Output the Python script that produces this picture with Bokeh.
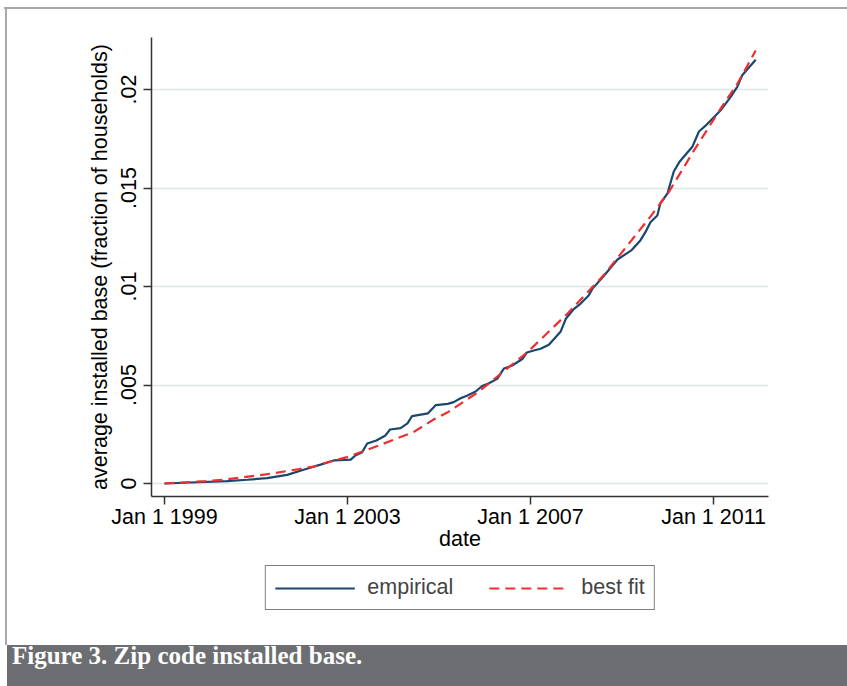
from bokeh.plotting import figure
from bokeh.layouts import column
from bokeh.models import FixedTicker, Range1d, Legend, LegendItem, Div
from bokeh.embed import file_html
from bokeh.resources import INLINE

# ---- data ----
emp_dates = [1999.00, 1999.57, 2000.37, 2000.81, 2001.24, 2001.68, 2002.04, 2002.41, 2002.70,
             2003.07, 2003.17, 2003.32, 2003.43, 2003.63, 2003.83, 2003.93, 2004.16, 2004.31,
             2004.41, 2004.76, 2004.93, 2005.19, 2005.32, 2005.47, 2005.62, 2005.80, 2005.94,
             2006.09, 2006.27, 2006.42, 2006.60, 2006.82, 2006.92, 2007.07, 2007.22, 2007.40,
             2007.66, 2007.77, 2007.95, 2008.09, 2008.27, 2008.35, 2008.60, 2008.90, 2009.21,
             2009.40, 2009.51, 2009.62, 2009.77, 2009.84, 2009.99, 2010.13, 2010.26, 2010.54,
             2010.68, 2010.85, 2011.15, 2011.37, 2011.52, 2011.63, 2011.92]
emp_values = [0.00000, 0.00005, 0.00012, 0.00019, 0.00027, 0.00044, 0.00070, 0.00096, 0.00117,
              0.00121, 0.00142, 0.00159, 0.00203, 0.00218, 0.00244, 0.00274, 0.00281, 0.00305,
              0.00342, 0.00356, 0.00398, 0.00404, 0.00413, 0.00433, 0.00447, 0.00467, 0.00495,
              0.00509, 0.00531, 0.00584, 0.00599, 0.00632, 0.00665, 0.00675, 0.00684, 0.00704,
              0.00772, 0.00836, 0.00887, 0.00912, 0.00954, 0.00988, 0.01053, 0.01137, 0.01185,
              0.01234, 0.01276, 0.01326, 0.01360, 0.01424, 0.01471, 0.01584, 0.01635, 0.01711,
              0.01787, 0.01822, 0.01893, 0.01961, 0.02015, 0.02074, 0.02151]

fit_dates = [1999.00, 1999.90, 2000.30, 2000.62, 2001.21, 2001.94, 2002.26, 2002.67, 2002.99,
             2003.25, 2003.72, 2004.45, 2004.89, 2005.18, 2005.83, 2006.93, 2007.80, 2008.60,
             2009.62, 2010.02, 2010.57, 2011.15, 2011.52, 2011.92]
fit_values = [0.00000, 0.00012, 0.00019, 0.00029, 0.00046, 0.00073, 0.00086, 0.00115, 0.00134,
              0.00156, 0.00196, 0.00262, 0.00326, 0.00360, 0.00460, 0.00666, 0.00861, 0.01058,
              0.01355, 0.01479, 0.01690, 0.01902, 0.02029, 0.02198]

x_tick_values = [1999, 2003, 2007, 2011]
x_tick_labels = ["Jan 1 1999", "Jan 1 2003", "Jan 1 2007", "Jan 1 2011"]
y_tick_values = [0, 0.005, 0.01, 0.015, 0.02]
y_tick_labels = ["0", ".005", ".01", ".015", ".02"]

series_labels = ["empirical", "best fit"]
x_title = "date"
y_title = "average installed base (fraction of households)"
caption = "Figure 3. Zip code installed base."

FONT = "Liberation Sans"
FS = "21.5px"
AXIS_COLOR = "#333333"
FRAME_GRAY = "#a9a9a9"
EMP_COLOR = "#1a476f"
FIT_COLOR = "#ee2f2f"
FIT_DASH = "10 6"

# ---------------- main chart ----------------
p = figure(frame_width=617, frame_height=459,
           min_border_left=151, min_border_right=79, min_border_top=37, min_border_bottom=60,
           x_range=Range1d(1998.716, 2012.20), y_range=Range1d(-0.00066, 0.02264),
           output_backend="svg", toolbar_location=None)
p.outline_line_color = None
p.background_fill_color = "white"
p.border_fill_color = None

for ax in (p.xaxis[0], p.yaxis[0]):
    ax.axis_line_color = AXIS_COLOR
    ax.axis_line_width = 1.5
    ax.major_tick_line_color = AXIS_COLOR
    ax.major_tick_line_width = 1.5
    ax.major_tick_in = 0
    ax.major_tick_out = 8
    ax.minor_tick_line_color = None
    ax.major_label_text_font = FONT
    ax.major_label_text_font_size = FS
    ax.major_label_text_color = "black"
    ax.axis_label_text_font = FONT
    ax.axis_label_text_font_size = FS
    ax.axis_label_text_font_style = "normal"
    ax.axis_label_text_color = "black"

p.xaxis.ticker = FixedTicker(ticks=x_tick_values)
p.xaxis.major_label_overrides = dict(zip(x_tick_values, x_tick_labels))
p.xaxis.axis_label = x_title
p.xaxis.major_label_standoff = 0
p.xaxis.axis_label_standoff = -5

p.yaxis.ticker = FixedTicker(ticks=y_tick_values)
p.yaxis.major_label_overrides = dict(zip(y_tick_values, y_tick_labels))
p.yaxis.axis_label = y_title
p.yaxis.major_label_orientation = "vertical"
p.yaxis.major_label_standoff = 7
p.yaxis.axis_label_standoff = 7

p.xgrid.visible = False
p.ygrid.grid_line_color = "#dde7e7"
p.ygrid.grid_line_width = 1.5

p.line(emp_dates, emp_values, line_color=EMP_COLOR, line_width=2.2)
p.line(fit_dates, fit_values, line_color=FIT_COLOR, line_width=2.2, line_dash=FIT_DASH)

# ---------------- legend strip (same series; its y-range keeps the lines out of view) ----------------
lf = figure(width=847, height=89,
            min_border_left=151, min_border_right=79, min_border_top=0, min_border_bottom=0,
            x_range=p.x_range, y_range=Range1d(1, 2),
            output_backend="svg", toolbar_location=None)
lf.axis.visible = False
lf.grid.visible = False
lf.outline_line_color = None
lf.background_fill_color = None
lf.border_fill_color = None
k_emp = lf.line(emp_dates, emp_values, line_color=EMP_COLOR, line_width=2.2)
k_fit = lf.line(fit_dates, fit_values, line_color=FIT_COLOR, line_width=2.2, line_dash=FIT_DASH)
legend = Legend(items=[LegendItem(label=series_labels[0], renderers=[k_emp]),
                       LegendItem(label=series_labels[1], renderers=[k_fit])],
                orientation="horizontal", location="top_center",
                glyph_width=80, glyph_height=20, label_standoff=13, spacing=35,
                padding=9, margin=9,
                border_line_color="black", border_line_width=1.2,
                background_fill_color="white", background_fill_alpha=1,
                label_text_font=FONT, label_text_font_size=FS)
lf.add_layout(legend)

# ---------------- caption bar (real text) ----------------
cap = Div(text=f'<span style="position:relative; top:-3px">{caption}</span>',
          width=840, height=41, margin=(0, 0, 0, 7),
          styles={"background-color": "#6d6e71", "color": "white",
                  "font-family": "'Liberation Serif', serif", "font-weight": "bold",
                  "font-size": "25px", "line-height": "28px", "padding-left": "5px",
                  "box-sizing": "border-box", "white-space": "nowrap"})

layout = column(p, lf, cap, spacing=0)
# thin grey page-frame lines (top and left) behind the transparent figure borders
layout.styles = {
    "background-color": "white",
    "background-image": f"linear-gradient({FRAME_GRAY}, {FRAME_GRAY}), linear-gradient({FRAME_GRAY}, {FRAME_GRAY})",
    "background-size": "843px 2px, 2px 638px",
    "background-position": "4px 7px, 5px 7px",
    "background-repeat": "no-repeat",
}
open("out.html", "w").write(file_html(layout, INLINE))
